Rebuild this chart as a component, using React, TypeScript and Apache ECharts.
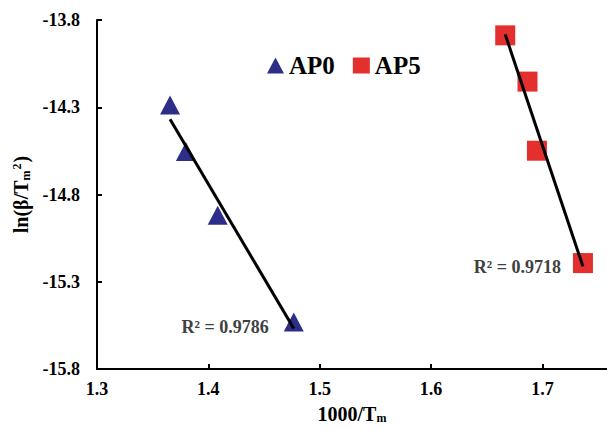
import React, { useEffect, useRef } from "react";
import * as echarts from "echarts";

const seriesNames = ["AP0", "AP5"];
const ap0X = [1.3656, 1.3798, 1.4084, 1.4767];
const ap0Y = [-14.287, -14.554, -14.919, -15.53];
const ap5X = [1.6666, 1.6866, 1.6951, 1.7364];
const ap5Y = [-13.888, -14.153, -14.549, -15.193];
const r2Labels = ["R² = 0.9786", "R² = 0.9718"];
const xTicks = { min: 1.3, max: 1.758, interval: 0.1 };
const yTicks = { min: -15.8, max: -13.8, interval: 0.5 };

const FONT = "'Liberation Serif', 'Times New Roman', serif";

function fit(xs: number[], ys: number[]): number[][] {
  const n = xs.length;
  const mx = xs.reduce((a, b) => a + b, 0) / n;
  const my = ys.reduce((a, b) => a + b, 0) / n;
  let sxy = 0;
  let sxx = 0;
  for (let i = 0; i < n; i++) {
    sxy += (xs[i] - mx) * (ys[i] - my);
    sxx += (xs[i] - mx) * (xs[i] - mx);
  }
  const k = sxy / sxx;
  const b = my - k * mx;
  const x0 = Math.min(...xs);
  const x1 = Math.max(...xs);
  return [
    [x0, k * x0 + b],
    [x1, k * x1 + b],
  ];
}

function points(xs: number[], ys: number[], label: string, offY: number, dist: number) {
  return xs.map((x, i) => {
    const item: any = { value: [x, ys[i]] };
    if (i === xs.length - 1) {
      item.label = {
        show: true,
        position: "left",
        distance: dist,
        offset: [0, offY],
        formatter: label,
        fontFamily: FONT,
        fontWeight: "bold",
        fontSize: 18,
        color: "#404040",
      };
    }
    return item;
  });
}

export default function App() {
  const ref = useRef<HTMLDivElement>(null);
  useEffect(() => {
    if (!ref.current) return;
    const chart = echarts.init(ref.current, undefined, { renderer: "svg" });
    chart.setOption({
      animation: false,
      backgroundColor: "#ffffff",
      textStyle: { fontFamily: FONT },
      grid: { left: 97, right: 0, top: 20, bottom: 61, containLabel: false },
      legend: {
        left: 262,
        top: 48,
        itemWidth: 17,
        itemHeight: 16,
        itemGap: 18,
        data: [
          { name: seriesNames[0], icon: "triangle" },
          { name: seriesNames[1], icon: "rect" },
        ],
        textStyle: { fontFamily: FONT, fontWeight: "bold", fontSize: 25, color: "#000" },
      },
      xAxis: {
        type: "value",
        min: xTicks.min,
        max: xTicks.max,
        interval: xTicks.interval,
        splitLine: { show: false },
        axisLine: { onZero: false, lineStyle: { color: "#000", width: 2 } },
        axisTick: { inside: true, length: 5, lineStyle: { color: "#000", width: 2 } },
        axisLabel: {
          showMaxLabel: false,
          margin: 11,
          fontFamily: FONT,
          fontWeight: "bold",
          fontSize: 18,
          color: "#000",
          formatter: (v: number) => v.toFixed(1),
        },
        name: "{a|1000/T}{s|m}",
        nameLocation: "middle",
        nameGap: 35,
        nameTextStyle: {
          rich: {
            a: { fontFamily: FONT, fontWeight: "bold", fontSize: 20, color: "#000" },
            s: {
              fontFamily: FONT,
              fontWeight: "bold",
              fontSize: 12,
              color: "#000",
              padding: [8, 0, 0, 0],
            },
          },
        },
      },
      yAxis: {
        type: "value",
        min: yTicks.min,
        max: yTicks.max,
        interval: yTicks.interval,
        splitLine: { show: false },
        axisLine: { onZero: false, lineStyle: { color: "#000", width: 2 } },
        axisTick: { inside: true, length: 5, lineStyle: { color: "#000", width: 2 } },
        axisLabel: {
          margin: 17,
          fontFamily: FONT,
          fontWeight: "bold",
          fontSize: 18,
          color: "#000",
          formatter: (v: number) => v.toFixed(1),
        },
        name: "{a|ln(β/T}{s|m}{p|2}{a|)}",
        nameLocation: "middle",
        nameGap: 63,
        nameTextStyle: {
          rich: {
            a: { fontFamily: FONT, fontWeight: "bold", fontSize: 20, color: "#000" },
            s: {
              fontFamily: FONT,
              fontWeight: "bold",
              fontSize: 12,
              color: "#000",
              padding: [9, 0, 0, 0],
            },
            p: {
              fontFamily: FONT,
              fontWeight: "bold",
              fontSize: 12,
              color: "#000",
              padding: [0, 1, 9, 1],
            },
          },
        },
      },
      series: [
        {
          name: seriesNames[0],
          type: "scatter",
          symbol: "triangle",
          symbolSize: [20, 19],
          itemStyle: { color: "#2D2E8A", opacity: 1 },
          data: points(ap0X, ap0Y, r2Labels[0], 5, 15),
          z: 2,
        },
        {
          name: seriesNames[1],
          type: "scatter",
          symbol: "rect",
          symbolSize: 20,
          itemStyle: { color: "#E3302F", opacity: 1 },
          data: points(ap5X, ap5Y, r2Labels[1], 4, 12),
          z: 2,
        },
        {
          name: "fit0",
          type: "line",
          data: fit(ap0X, ap0Y),
          showSymbol: false,
          symbol: "none",
          lineStyle: { color: "#000", width: 3 },
          z: 3,
        },
        {
          name: "fit5",
          type: "line",
          data: fit(ap5X, ap5Y),
          showSymbol: false,
          symbol: "none",
          lineStyle: { color: "#000", width: 3 },
          z: 3,
        },
      ],
    });
    return () => chart.dispose();
  }, []);
  return (
    <div
      ref={ref}
      style={{ position: "fixed", left: 0, top: 0, width: 607, height: 430 }}
    />
  );
}
